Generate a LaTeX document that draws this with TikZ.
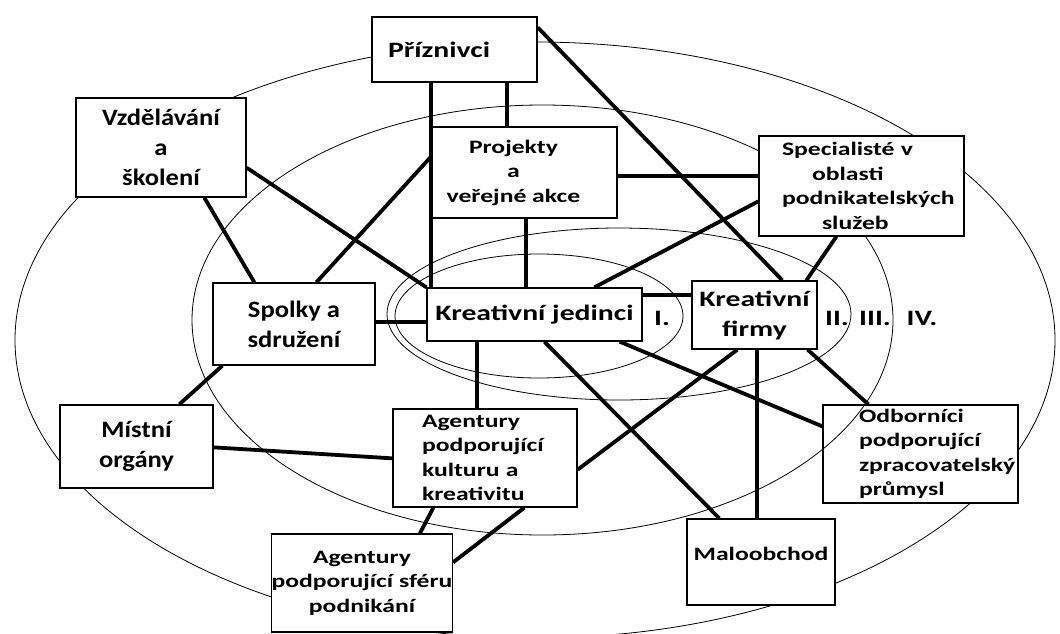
\documentclass[tikz,border=0pt]{standalone}
\usepackage{fontspec}
\setmainfont{Carlito}[FakeStretch=1.35]
\newfontfamily\wideless{Carlito}[FakeStretch=1.13]
\hyphenpenalty=10000
\begin{document}
\begin{tikzpicture}[x=1pt, y=-1pt,
  ring/.style={line width=0.8pt},
  box/.style={draw, line width=1.3pt, fill=white, inner sep=0pt, align=center},
  link/.style={line width=3.8pt},
  big/.style={font=\wideless\bfseries\fontsize{23.5}{30}\selectfont},
  mid/.style={font=\bfseries\fontsize{22}{30}\selectfont},
  small/.style={font=\bfseries\fontsize{19}{24.5}\selectfont}]
  \useasboundingbox (0,0) rectangle (1060,633);
  % las cuatro elipses, de fuera adentro
  \draw[ring] (535,340) ellipse [x radius=520pt, y radius=298pt];
  \draw[ring] (542.5,320) ellipse [x radius=350.5pt, y radius=215pt];
  \draw[ring] (619,314) ellipse [x radius=232pt, y radius=86pt];
  \draw[ring] (539,316) ellipse [x radius=144pt, y radius=62pt];
  % las cajas
  \node[box, mid, minimum width=165pt, minimum height=65pt, text width=133pt, align=left] (prz) at (454.5,49.5) {Příznivci};
  \node[box, big, minimum width=170pt, minimum height=99pt] (vzd) at (161,147.5) {Vzdělávání\\a\\školení};
  \node[box, minimum width=185pt, minimum height=91pt,
        label={[small, align=center, xshift=-11pt]center:{Projekty\\a\\veřejné akce}}] (prj) at (524.5,172.5) {};
  \node[box, small, minimum width=205pt, minimum height=100pt, text width=159pt, align=left] (spc) at (861.5,186)
    {Specialisté v\\\hspace*{30pt}oblasti\\\mbox{podnikatelských}\\\hspace*{40pt}služeb};
  \node[box, big, minimum width=162pt, minimum height=82pt] (spo) at (294,324) {Spolky a\\sdružení};
  \node[box, mid, minimum width=215pt, minimum height=53pt] (kj) at (534.5,314.5) {Kreativní jedinci};
  \node[box, mid, minimum width=125pt, minimum height=68pt] (kf) at (754.5,315) {Kreativní\\firmy};
  \node[box, big, minimum width=153pt, minimum height=83pt] (mis) at (136.5,446.5) {Místní\\orgány};
  \node[box, small, minimum width=184pt, minimum height=98pt, text width=126pt, align=left] (akk) at (485,458) {Agentury\\podporující\\kulturu a\\kreativitu};
  \node[box, small, minimum width=180pt, minimum height=98pt] (asf) at (362,583) {Agentury\\podporující sféru\\podnikání};
  \node[box, small, minimum width=195pt, minimum height=98pt, text width=123pt, align=left] (odb) at (920.5,454) {Odborníci\\podporující\\\mbox{zpracovatelský}\\průmysl};
  \node[box, small, minimum width=148pt, minimum height=86pt, text depth=16pt] (mal) at (761,562) {Maloobchod};
  % la elipse III se ve encima de los odborníci
  \begin{scope}
    \clip (odb.south west) rectangle (odb.north east);
    \draw[ring] (542.5,320) ellipse [x radius=350.5pt, y radius=215pt];
  \end{scope}
  % los círculos numerados
  \node[mid] (c1) at (662,318) {I.};
  \node[mid] (c2) at (837,318) {II.};
  \node[mid] (c3) at (875,318) {III.};
  \node[mid] (c4) at (922,318) {IV.};
  % las uniones
  \draw[link] ([xshift=60pt]prz.south west) -- ([xshift=5pt]kj.north west);
  \draw[link] ([xshift=136pt]prz.south west) -- ([xshift=76pt]prj.north west);
  \draw[link] ([yshift=-11pt]prz.north east) -- ([xshift=91pt]kf.north west);
  \draw[link] ([yshift=30pt]vzd.south east) -- (kj.north west);
  \draw[link] ([xshift=129pt]vzd.south west) -- ([xshift=42pt]spo.north west);
  \draw[link] ([yshift=-30pt]prj.north west) -- ([xshift=104pt]spo.north west);
  \draw[link] ([yshift=-50pt]prj.north east) -- ([yshift=-41pt]spc.north west);
  \draw[link] ([xshift=95pt]prj.south west) -- ([xshift=100pt]kj.north west);
  \draw[link] ([yshift=-66pt]spc.north west) -- ([xshift=168pt]kj.north west);
  \draw[link] ([xshift=78pt]spc.south west) -- ([xshift=115pt]kf.north west);
  \draw[link] ([yshift=-8pt]kj.north east) -- ([yshift=-15pt]kf.north west);
  \draw[link] ([yshift=-40pt]spo.north east) -- ([yshift=-35pt]kj.north west);
  \draw[link] ([xshift=10pt]spo.south west) -- ([xshift=120pt]mis.north west);
  \draw[link] ([xshift=51pt]kj.south west) -- ([xshift=85pt]akk.north west);
  \draw[link] ([xshift=118pt]kj.south west) -- ([xshift=33pt]mal.north west);
  \draw[link] ([xshift=-23pt]kj.south east) -- ([yshift=-22pt]odb.north west);
  \draw[link] ([xshift=46pt]kf.south west) -- ([yshift=38pt]akk.south east);
  \draw[link] ([xshift=66pt]kf.south west) -- ([xshift=71pt]mal.north west);
  \draw[link] ([xshift=-10pt]kf.south east) -- ([xshift=46pt]odb.north west);
  \draw[link] ([yshift=-43pt]mis.north east) -- ([yshift=-50pt]akk.north west);
  \draw[link] ([xshift=41pt]akk.south west) -- ([xshift=149pt]asf.north west);
  \draw[link] ([xshift=132pt]akk.south west) -- ([yshift=-29pt]asf.north east);
\end{tikzpicture}
\end{document}
